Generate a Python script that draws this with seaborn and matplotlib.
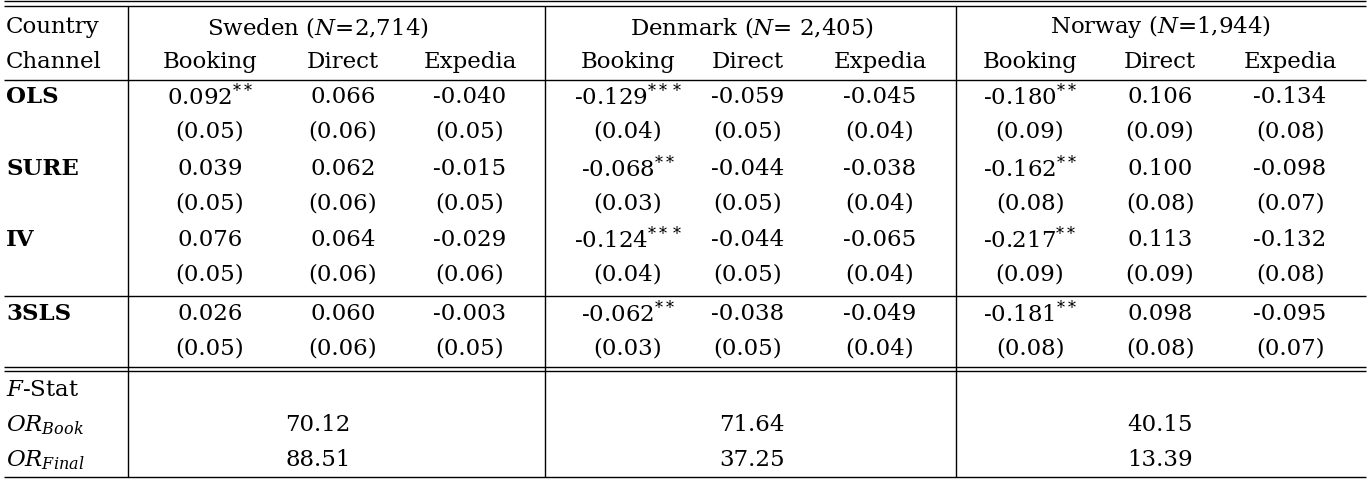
import matplotlib
matplotlib.use("Agg")
import matplotlib.pyplot as plt
import seaborn as sns

countries = ["Sweden ($N$=2,714)", "Denmark ($N$= 2,405)", "Norway ($N$=1,944)"]
channels = ["Booking", "Direct", "Expedia"]
methods = ["OLS", "SURE", "IV", "3SLS"]

coef = [
    ["0.092$^{**}$", "0.066", "-0.040", "-0.129$^{***}$", "-0.059", "-0.045", "-0.180$^{**}$", "0.106", "-0.134"],
    ["0.039", "0.062", "-0.015", "-0.068$^{**}$", "-0.044", "-0.038", "-0.162$^{**}$", "0.100", "-0.098"],
    ["0.076", "0.064", "-0.029", "-0.124$^{***}$", "-0.044", "-0.065", "-0.217$^{**}$", "0.113", "-0.132"],
    ["0.026", "0.060", "-0.003", "-0.062$^{**}$", "-0.038", "-0.049", "-0.181$^{**}$", "0.098", "-0.095"],
]
se = [
    ["0.05", "0.06", "0.05", "0.04", "0.05", "0.04", "0.09", "0.09", "0.08"],
    ["0.05", "0.06", "0.05", "0.03", "0.05", "0.04", "0.08", "0.08", "0.07"],
    ["0.05", "0.06", "0.06", "0.04", "0.05", "0.04", "0.09", "0.09", "0.08"],
    ["0.05", "0.06", "0.05", "0.03", "0.05", "0.04", "0.08", "0.08", "0.07"],
]
or_book = ["70.12", "71.64", "40.15"]
or_final = ["88.51", "37.25", "13.39"]

sns.set_theme(style="white")
plt.rcParams["font.family"] = ["DejaVu Serif"]
plt.rcParams["mathtext.fontset"] = "dejavuserif"
plt.rcParams["text.color"] = "black"

fig = plt.figure(figsize=(13.72, 4.81), dpi=100)
ax = fig.add_axes([0, 0, 1, 1])
ax.set_xlim(0, 1372)
ax.set_ylim(481, 0)
ax.axis("off")

fs = 16.5
col_x = [210, 343, 470, 628, 748, 880, 1030, 1160, 1290]
country_x = [318, 752, 1160]
row_y = [97, 169, 240, 314]

# header
ax.text(6, 27, "Country", fontsize=fs, va="center", ha="left")
ax.text(6, 62, "Channel", fontsize=fs, va="center", ha="left")
for cx, c in zip(country_x, countries):
    ax.text(cx, 27, c, fontsize=fs, va="center", ha="center")
for i, x in enumerate(col_x):
    ax.text(x, 62, channels[i % 3], fontsize=fs, va="center", ha="center")

# body
for r, m in enumerate(methods):
    y = row_y[r]
    ax.text(6, y, m, fontsize=fs, va="center", ha="left", fontweight="bold")
    for i, x in enumerate(col_x):
        ax.text(x, y, coef[r][i], fontsize=fs, va="center", ha="center")
        ax.text(x, y + 35, f"({se[r][i]})", fontsize=fs, va="center", ha="center")

# footer
ax.text(6, 390, "$F$-Stat", fontsize=fs, va="center", ha="left")
ax.text(6, 425, "$OR_{Book}$", fontsize=fs, va="center", ha="left")
ax.text(6, 460, "$OR_{Final}$", fontsize=fs, va="center", ha="left")
for cx, b, f in zip(country_x, or_book, or_final):
    ax.text(cx, 425, b, fontsize=fs, va="center", ha="center")
    ax.text(cx, 460, f, fontsize=fs, va="center", ha="center")

# rules
lw = 1.0
for y in [2, 7, 81, 297, 368, 372, 478]:
    ax.hlines(y, 4, 1366, color="black", linewidth=lw)
for x in [128, 545, 956]:
    ax.vlines(x, 7, 478, color="black", linewidth=lw)

fig.savefig("out.png", dpi=100)
